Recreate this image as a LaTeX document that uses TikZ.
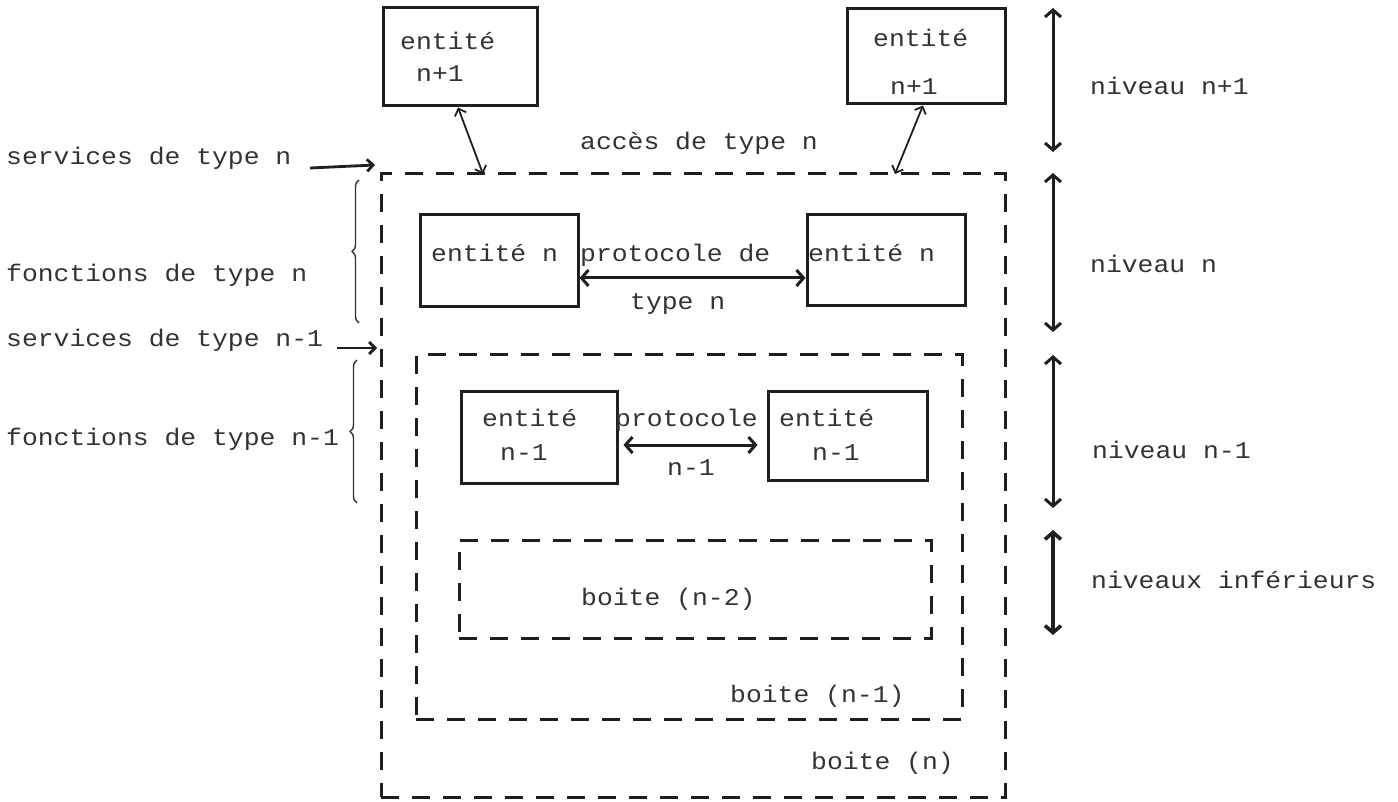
\documentclass[tikz,border=0pt]{standalone}
\usepackage{fontspec}
\newfontfamily\plotfont[FakeStretch=1.1]{Liberation Mono}
\usetikzlibrary{arrows.meta,decorations.pathreplacing}
\begin{document}
\begin{tikzpicture}[x=1pt,y=-1pt,
  txt/.style={font=\plotfont\fontsize{24}{28}\selectfont, text=black!80, inner sep=0pt, anchor=base west},
  sbox/.style={draw=black!88, line width=3pt, inner sep=0pt},
  dbox/.style={draw=black!88, line width=3pt, dash pattern=on 18pt off 13pt, inner sep=0pt},
  bigarrow/.style={draw=black!88, line width=3pt, {Straight Barb[length=7pt,width=16pt]}-{Straight Barb[length=7pt,width=16pt]}},
  thinarrow/.style={draw=black!88, line width=1.8pt, {Straight Barb[length=6pt,width=12pt]}-{Straight Barb[length=6pt,width=12pt]}},
  servarrow/.style={draw=black!88, line width=2.8pt, -{Straight Barb[length=6pt,width=12pt]}},
  bracedec/.style={draw=black!80, line width=1.4pt, decorate, decoration={brace, amplitude=7pt}}
]
\useasboundingbox (0,0) rectangle (1398,802);
\fill[white] (0,0) rectangle (1398,802);

% dashed boxes
\node[dbox, minimum width=624pt, minimum height=623pt] (boxn) at (693,485.5) {};
\node[dbox, minimum width=546pt, minimum height=364pt] (boxnm1) at (689,537) {};
\node[dbox, minimum width=472pt, minimum height=98pt] (boxnm2) at (695,589) {};

% solid boxes
\node[sbox, minimum width=154pt, minimum height=98pt] (enpa) at (460,57) {};
\node[sbox, minimum width=158pt, minimum height=95pt] (enpb) at (926,56.5) {};
\node[sbox, minimum width=158pt, minimum height=92pt] (ena) at (499,261) {};
\node[sbox, minimum width=158pt, minimum height=91pt] (enb) at (886,260.5) {};
\node[sbox, minimum width=156pt, minimum height=92pt] (enma) at (539,437) {};
\node[sbox, minimum width=159pt, minimum height=89pt] (enmb) at (847.5,435.5) {};

% texts in boxes
\node[txt] (t1) at (400,50) {entité};
\node[txt] (t2) at (416,82) {n+1};
\node[txt] (t3) at (873,47) {entité};
\node[txt] (t4) at (890,95) {n+1};
\node[txt] (t5) at (431,262) {entité n};
\node[txt] (t6) at (808,262) {entité n};
\node[txt] (t7) at (482,426) {entité};
\node[txt] (t8) at (500,460) {n-1};
\node[txt] (t9) at (779,426) {entité};
\node[txt] (t10) at (812,460) {n-1};

% middle labels
\node[txt] (acc) at (580,150) {accès de type n};
\node[txt] (p1) at (580,262) {protocole de};
\node[txt] (p2) at (630,310) {type n};
\node[txt] (p3) at (615,426) {protocole};
\node[txt] (p4) at (667,475) {n-1};
\node[txt] (b2) at (581,605) {boite (n-2)};
\node[txt] (b1) at (730,702) {boite (n-1)};
\node[txt] (b0) at (811,769) {boite (n)};

% left labels
\node[txt] (sn) at (6,165) {services de type n};
\node[txt] (fn) at (6,282) {fonctions de type n};
\node[txt] (snm) at (6,347) {services de type n-1};
\node[txt] (fnm) at (6,445) {fonctions de type n-1};

% right labels
\node[txt] (ln1) at (1090,95) {niveau n+1};
\node[txt] (ln) at (1090,273) {niveau n};
\node[txt] (lnm) at (1092,458) {niveau n-1};
\node[txt] (linf) at (1091,588) {niveaux inférieurs};

% coordinates
\coordinate (accL) at (483,174);
\coordinate (accR) at (895,174);
\coordinate (ya) at (0,278);
\coordinate (yb) at (0,445);
\coordinate (s1a) at (310,168);
\coordinate (s1b) at (375,165);
\coordinate (s2a) at (337,348);
\coordinate (s2b) at (377,348);
\coordinate (br1a) at (359,323);
\coordinate (br1b) at (359,180);
\coordinate (br2a) at (357,503);
\coordinate (br2b) at (357,360);
\coordinate (r1a) at (1053,8);
\coordinate (r1b) at (1053,152);
\coordinate (r2a) at (1053,173);
\coordinate (r2b) at (1053,332);
\coordinate (r3a) at (1053,355);
\coordinate (r3b) at (1053,508);
\coordinate (r4a) at (1053,530);
\coordinate (r4b) at (1053,635);

% connectors
\draw[thinarrow] ([xshift=-2pt]enpa.south) -- (accL);
\draw[thinarrow] ([xshift=-3pt]enpb.south) -- (accR);
\draw[bigarrow] (ena.east |- ya) -- (enb.west |- ya);
\draw[bigarrow, shorten <=5pt, shorten >=9pt] (enma.east |- yb) -- (enmb.west |- yb);
\draw[servarrow] (s1a) -- (s1b);
\draw[servarrow] (s2a) -- (s2b);
\draw[bracedec] (br1a) -- (br1b);
\draw[bracedec] (br2a) -- (br2b);
\draw[bigarrow] (r1a) -- (r1b);
\draw[bigarrow] (r2a) -- (r2b);
\draw[bigarrow] (r3a) -- (r3b);
\draw[bigarrow, line width=3.6pt] (r4a) -- (r4b);
\end{tikzpicture}
\end{document}
